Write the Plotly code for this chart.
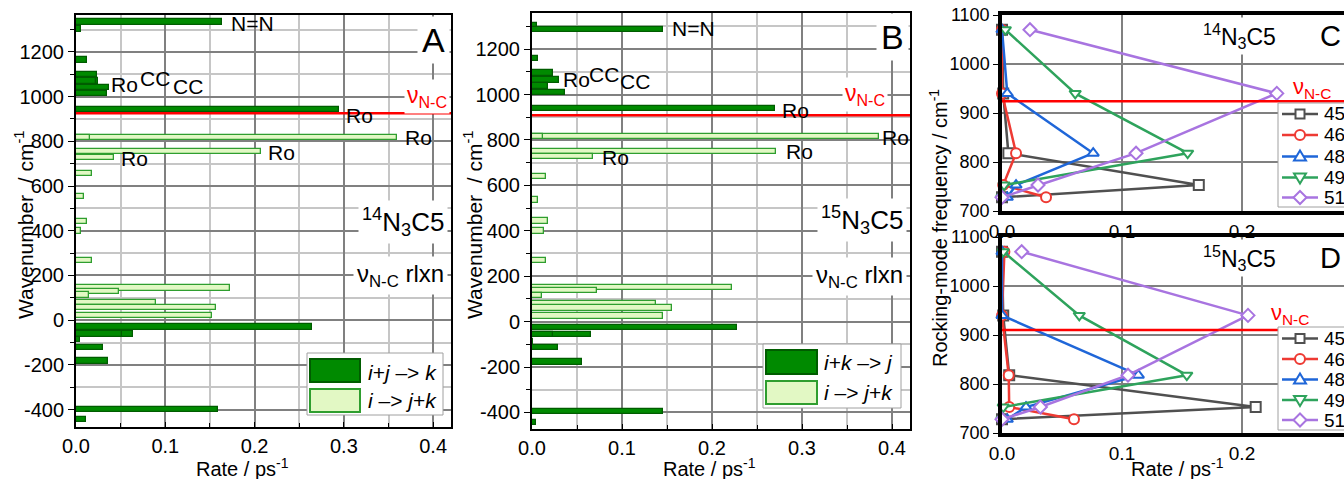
import plotly.graph_objects as go

W, H = 1344, 479
FONT = "Liberation Sans, Arial, sans-serif"

# ---------------- data ----------------
# Panel A (14N3C5)
a_dark_wn   = [1333, 1302, 1164, 1098, 1070, 1070, 1040, 1013, 943, -30, -62, -62, -86, -121, -183, -400, -444]
a_dark_rate = [0.164, 0.006, 0.012, 0.024, 0.025, 0.022, 0.0367, 0.0345, 0.295, 0.264, 0.064, 0.051, 0.004, 0.0307, 0.0356, 0.159, 0.011]
a_light_wn   = [817, 817, 753, 727, 656, 553, 442, 398, 266, 143, 129, 113, 78, 56, 20]
a_light_rate = [0.36, 0.016, 0.207, 0.043, 0.018, 0.009, 0.012, 0.006, 0.018, 0.173, 0.048, 0.015, 0.090, 0.1565, 0.152]
a_nu_nc = 925

# Panel B (15N3C5)
b_dark_wn   = [1304, 1287, 1158, 1094, 1063, 1037, 1010, 939, -26, -58, -58, -88, -114, -177, -397, -444]
b_dark_rate = [0.005, 0.145, 0.007, 0.023, 0.0304, 0.018, 0.037, 0.2696, 0.2277, 0.065, 0.0237, 0.001, 0.0293, 0.0552, 0.1457, 0.0045]
b_light_wn   = [814, 814, 748, 728, 639, 536, 443, 398, 270, 149, 136, 116, 79, 59, 25]
b_light_rate = [0.385, 0.012, 0.271, 0.068, 0.0156, 0.0063, 0.018, 0.0135, 0.0156, 0.2217, 0.072, 0.0115, 0.138, 0.1557, 0.1453]
b_nu_nc = 909

# Panels C, D: rocking-mode frequencies
rock_freq = [1070, 940, 818, 753, 728]
series_names = ["45", "46", "48", "49", "51"]
c_rates = {
    "45": [0.0, 0.001, 0.0053, 0.164, 0.0],
    "46": [0.0, 0.0, 0.0117, 0.001, 0.0367],
    "48": [0.0, 0.0044, 0.076, 0.0117, 0.0044],
    "49": [0.0028, 0.061, 0.1547, 0.0017, 0.0],
    "51": [0.0233, 0.229, 0.1117, 0.030, 0.0],
}
d_rates = {
    "45": [0.0, 0.001, 0.006, 0.2114, 0.0],
    "46": [0.002, 0.0, 0.0056, 0.006, 0.060],
    "48": [0.0, 0.0, 0.1136, 0.020, 0.0044],
    "49": [0.0011, 0.0644, 0.154, 0.001, 0.0],
    "51": [0.0164, 0.205, 0.105, 0.032, 0.0],
}
c_nu_nc = 924
d_nu_nc = 910

wn_ticks = [-400, -200, 0, 200, 400, 600, 800, 1000, 1200]
wn_ticktext = ["-400", "-200", "0", "200", "400", "600", "800", "1000", "1200"]
rate_ticks = [0.0, 0.1, 0.2, 0.3, 0.4]
rate_ticktext = ["0.0", "0.1", "0.2", "0.3", "0.4"]
rock_ticks = [700, 800, 900, 1000, 1100]
rock_ticktext = ["700", "800", "900", "1000", "1100"]
cd_rate_ticks = [0.0, 0.1, 0.2]
cd_rate_ticktext = ["0.0", "0.1", "0.2"]

# ---------------- style ----------------
DARK_FILL, DARK_LINE = "#008a00", "#005c00"
LIGHT_FILL, LIGHT_LINE = "#e2f8c4", "#2f9e2f"
SERIES_COLORS = {"45": "#505050", "46": "#ee3a33", "48": "#1f66d8", "49": "#2ea35c", "51": "#a874e0"}
SERIES_SYMBOLS = {"45": "square", "46": "circle", "48": "triangle-up", "49": "triangle-down", "51": "diamond"}
MAJ_GRID, MIN_GRID = "#808080", "#c6c6c6"

def px(x):
    return x / W

def py(y):
    return 1 - y / H

fig = go.Figure()

BAR_W = 24
def add_bars(wn, rate, fill, line, xa, ya):
    fig.add_trace(go.Bar(orientation="h", x=rate, y=wn, width=BAR_W,
                         marker=dict(color=fill, line=dict(color=line, width=1.3)),
                         xaxis=xa, yaxis=ya, showlegend=False, hoverinfo="skip"))

add_bars(a_dark_wn, a_dark_rate, DARK_FILL, DARK_LINE, "x", "y")
add_bars(a_light_wn, a_light_rate, LIGHT_FILL, LIGHT_LINE, "x", "y")
add_bars(b_dark_wn, b_dark_rate, DARK_FILL, DARK_LINE, "x2", "y2")
add_bars(b_light_wn, b_light_rate, LIGHT_FILL, LIGHT_LINE, "x2", "y2")

for rates, xa, ya in [(c_rates, "x3", "y3"), (d_rates, "x4", "y4")]:
    for name in series_names:
        col = SERIES_COLORS[name]
        fig.add_trace(go.Scatter(
            x=rates[name], y=rock_freq, mode="lines+markers", name=name,
            line=dict(color=col, width=2.5),
            marker=dict(symbol=SERIES_SYMBOLS[name], size=10, color="white",
                        line=dict(color=col, width=2)),
            xaxis=xa, yaxis=ya, showlegend=False, cliponaxis=False, hoverinfo="skip"))

# ---------------- axes ----------------
def bar_xaxis(domain, anchor):
    return dict(domain=domain, anchor=anchor, range=[0, 0.42],
                tickvals=rate_ticks, ticktext=rate_ticktext,
                showgrid=True, gridcolor=MAJ_GRID, gridwidth=1.8,
                minor=dict(dtick=0.05, tick0=0, showgrid=True, gridcolor=MIN_GRID, gridwidth=1.8,
                           ticks="inside", ticklen=4, tickcolor="black"),
                ticks="inside", ticklen=5, tickcolor="black",
                showline=True, linecolor="black", linewidth=2, mirror=True,
                zeroline=False, tickfont=dict(size=20, color="black"))

def bar_yaxis(domain, anchor, rng):
    return dict(domain=domain, anchor=anchor, range=rng,
                tickvals=wn_ticks, ticktext=wn_ticktext,
                showgrid=True, gridcolor=MAJ_GRID, gridwidth=1.8,
                minor=dict(dtick=100, tick0=0, showgrid=True, gridcolor=MIN_GRID, gridwidth=1.8,
                           ticks="outside", ticklen=4, tickcolor="black"),
                ticks="outside", ticklen=6, tickcolor="black",
                showline=True, linecolor="black", linewidth=2, mirror=True,
                zeroline=False, tickfont=dict(size=20, color="black"))

def cd_xaxis(domain, anchor):
    return dict(domain=domain, anchor=anchor, range=[0, 0.285],
                tickvals=cd_rate_ticks, ticktext=cd_rate_ticktext,
                showgrid=True, gridcolor=MAJ_GRID, gridwidth=1.8,
                ticks="", showline=True, linecolor="black", linewidth=3.5, mirror=True,
                zeroline=False, tickfont=dict(size=19, color="black"))

def cd_yaxis(domain, anchor):
    return dict(domain=domain, anchor=anchor, range=[700, 1100],
                tickvals=rock_ticks, ticktext=rock_ticktext,
                showgrid=True, gridcolor=MAJ_GRID, gridwidth=1.8,
                ticks="outside", ticklen=5, tickcolor="black",
                showline=True, linecolor="black", linewidth=3.5, mirror=False,
                zeroline=False, tickfont=dict(size=18, color="black"))

fig.update_layout(
    xaxis=bar_xaxis([px(76), px(451)], "y"),
    yaxis=bar_yaxis([py(427), py(15)], "x", [-478, 1365]),
    xaxis2=bar_xaxis([px(532), px(910)], "y2"),
    yaxis2=bar_yaxis([py(429), py(13)], "x2", [-473, 1359]),
    xaxis3=cd_xaxis([px(1002), 1.0], "y3"),
    yaxis3=cd_yaxis([py(211), py(15)], "x3"),
    xaxis4=cd_xaxis([px(1002), 1.0], "y4"),
    yaxis4=cd_yaxis([py(433), py(237)], "x4"),
)

# ---------------- shapes (nu N-C lines, manual legends) ----------------
shapes = []
for xr, yr, v in [("x", "y", a_nu_nc), ("x2", "y2", b_nu_nc), ("x3", "y3", c_nu_nc), ("x4", "y4", d_nu_nc)]:
    shapes.append(dict(type="line", xref=xr + " domain", yref=yr, x0=0, x1=1, y0=v, y1=v,
                       line=dict(color="#ff0000", width=2.5), layer="above"))

annotations = []

def legend_box(box, sw1, sw2, t1, t2, texts):
    x0, y0, x1, y1 = box
    shapes.append(dict(type="rect", xref="paper", yref="paper", x0=px(x0), x1=px(x1), y0=py(y1), y1=py(y0),
                       fillcolor="white", line=dict(color="#a0a0a0", width=1), layer="above"))
    for (sx0, sy0, sx1, sy1), fill, line in [(sw1, DARK_FILL, DARK_LINE), (sw2, LIGHT_FILL, LIGHT_LINE)]:
        shapes.append(dict(type="rect", xref="paper", yref="paper", x0=px(sx0), x1=px(sx1), y0=py(sy1), y1=py(sy0),
                           fillcolor=fill, line=dict(color=line, width=2), layer="above"))
    for (tx, ty), txt in zip([t1, t2], texts):
        annotations.append(dict(xref="paper", yref="paper", x=px(tx), y=py(ty), text=txt, showarrow=False,
                                xanchor="left", yanchor="middle", font=dict(size=21, color="black")))

legend_box((307, 353, 443, 415), (310, 359, 360, 382), (310, 389, 360, 412), (366, 372), (366, 400),
           ["<i>i</i>+<i>j</i> –> <i>k</i>", "<i>i</i> –> <i>j</i>+<i>k</i>"])
legend_box((763, 344, 901, 408), (766, 350, 817, 374), (766, 381, 817, 404), (822, 362), (822, 392),
           ["<i>i</i>+<i>k</i> –> <i>j</i>", "<i>i</i> –> <i>j</i>+<i>k</i>"])

def marker_shape(sym, cx, cy, col, r=5):
    line = dict(color=col, width=2)
    if sym == "square":
        return dict(type="rect", xref="paper", yref="paper", x0=px(cx - r + 0.5), x1=px(cx + r - 0.5),
                    y0=py(cy + r - 0.5), y1=py(cy - r + 0.5), fillcolor="white", line=line, layer="above")
    if sym == "circle":
        return dict(type="circle", xref="paper", yref="paper", x0=px(cx - r), x1=px(cx + r),
                    y0=py(cy + r), y1=py(cy - r), fillcolor="white", line=line, layer="above")
    if sym == "triangle-up":
        pts = [(cx, cy - r - 1), (cx + r + 1, cy + r - 1), (cx - r - 1, cy + r - 1)]
    elif sym == "triangle-down":
        pts = [(cx, cy + r + 1), (cx + r + 1, cy - r + 1), (cx - r - 1, cy - r + 1)]
    else:  # diamond
        pts = [(cx, cy - r - 1.5), (cx + r + 1.5, cy), (cx, cy + r + 1.5), (cx - r - 1.5, cy)]
    path = "M " + " L ".join(f"{px(x):.6f},{py(y):.6f}" for x, y in pts) + " Z"
    return dict(type="path", xref="paper", yref="paper", path=path, fillcolor="white", line=line, layer="above")

def series_legend(top, bottom, rows):
    shapes.append(dict(type="rect", xref="paper", yref="paper", x0=px(1278), x1=px(1360),
                       y0=py(bottom), y1=py(top), fillcolor="white",
                       line=dict(color="#a0a0a0", width=1), layer="above"))
    for name, yy in zip(series_names, rows):
        col = SERIES_COLORS[name]
        shapes.append(dict(type="line", xref="paper", yref="paper", x0=px(1282), x1=px(1318),
                           y0=py(yy), y1=py(yy), line=dict(color=col, width=2.5), layer="above"))
        shapes.append(marker_shape(SERIES_SYMBOLS[name], 1300, yy, col))
        annotations.append(dict(xref="paper", yref="paper", x=px(1322), y=py(yy), text=name, showarrow=False,
                                xanchor="left", yanchor="middle", font=dict(size=19, color="black")))

series_legend(103, 207, [114, 135, 156.5, 177.5, 197.5])
series_legend(327, 430, [338.5, 359, 379.5, 400, 420])

def ann(xr, yr, x, y, text, size=21, color="black", xanchor="left", bg=None, pad=1):
    d = dict(xref=xr, yref=yr, x=x, y=y, text=text, showarrow=False, xanchor=xanchor, yanchor="middle",
             font=dict(size=size, color=color))
    if bg:
        d["bgcolor"] = bg
        d["borderpad"] = pad
    annotations.append(d)

NU = "ν<sub>N-C</sub>"

# Panel A labels
ann("x", "y", 0.171, 1326, "N=N")
ann("x", "y", 0.037, 1053, "Ro")
ann("x", "y", 0.069, 1079, "CC")
ann("x", "y", 0.1065, 1046, "CC")
ann("x", "y", 0.300, 916, "Ro")
ann("x", "y", 0.366, 815, "Ro")
ann("x", "y", 0.213, 750, "Ro")
ann("x", "y", 0.048, 722, "Ro")
ann("x", "y", 0.419, 1253, "A", size=34, xanchor="right", bg="white", pad=4)
ann("x", "y", 0.419, 1000, NU, size=23, color="#ff0000", xanchor="right", bg="white", pad=2)
ann("x", "y", 0.417, 437, "<sup>14</sup>N<sub>3</sub>C5", size=26, xanchor="right", bg="white", pad=3)
ann("x", "y", 0.417, 198, NU + " rlxn", size=24, xanchor="right", bg="white", pad=3)

# Panel B labels
ann("x2", "y2", 0.153, 1289, "N=N")
ann("x2", "y2", 0.032, 1066, "Ro")
ann("x2", "y2", 0.0615, 1087, "CC")
ann("x2", "y2", 0.096, 1057, "CC")
ann("x2", "y2", 0.276, 930, "Ro")
ann("x2", "y2", 0.387, 811, "Ro")
ann("x2", "y2", 0.280, 748, "Ro")
ann("x2", "y2", 0.076, 724, "Ro")
ann("x2", "y2", 0.419, 1255, "B", size=34, xanchor="right", bg="white", pad=4)
ann("x2", "y2", 0.395, 1000, NU, size=23, color="#ff0000", xanchor="right", bg="white", pad=2)
ann("x2", "y2", 0.417, 446, "<sup>15</sup>N<sub>3</sub>C5", size=26, xanchor="right", bg="white", pad=3)
ann("x2", "y2", 0.417, 198, NU + " rlxn", size=24, xanchor="right", bg="white", pad=3)

# Panel C / D labels
ann("x3", "y3", 0.198, 1058, "<sup>14</sup>N<sub>3</sub>C5", size=23, xanchor="center", bg="white", pad=2)
ann("x3", "y3", 0.285, 1058, "C", size=29, xanchor="right", bg="white", pad=2)
ann("x3", "y3", 0.258, 950, NU, size=22, color="#ff0000", xanchor="center")
ann("x4", "y4", 0.198, 1058, "<sup>15</sup>N<sub>3</sub>C5", size=23, xanchor="center", bg="white", pad=2)
ann("x4", "y4", 0.285, 1058, "D", size=29, xanchor="right", bg="white", pad=2)
ann("x4", "y4", 0.240, 942, NU, size=22, color="#ff0000", xanchor="center")

# axis titles
def title(x, y, text, angle=0, size=21):
    annotations.append(dict(xref="paper", yref="paper", x=px(x), y=py(y), text=text, showarrow=False,
                            xanchor="center", yanchor="middle", textangle=angle,
                            font=dict(size=size, color="black")))

title(242, 467, "Rate / ps<sup>-1</sup>", size=20)
title(709, 467, "Rate / ps<sup>-1</sup>", size=20)
title(1177, 467, "Rate / ps<sup>-1</sup>", size=20)
title(24, 225, "Wavenumber  / cm<sup>-1</sup>", angle=-90)
title(473, 225, "Wavenumber  / cm<sup>-1</sup>", angle=-90)
title(939, 228, "Rocking-mode frequency / cm<sup>-1</sup>", angle=-90, size=20)

fig.update_layout(
    width=W, height=H,
    margin=dict(l=0, r=0, t=0, b=0, autoexpand=False),
    paper_bgcolor="white", plot_bgcolor="white",
    font=dict(family=FONT, size=18, color="black"),
    barmode="overlay", bargap=0,
    shapes=shapes, annotations=annotations,
    showlegend=False,
)

fig.write_html("out.html")
